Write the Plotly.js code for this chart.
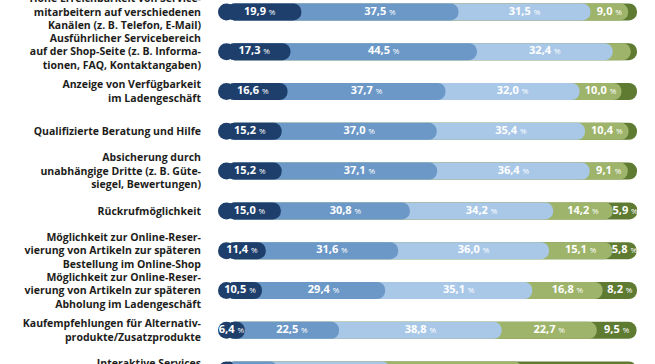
<!DOCTYPE html>
<html><head><meta charset="utf-8">
<script src="https://cdn.plot.ly/plotly-3.0.1.min.js"></script>
<style>
html,body{margin:0;padding:0;overflow:hidden;background:#fff;width:655px;height:364px}
#chart{position:absolute;left:0;top:-8px;width:655px;height:398px}
</style></head>
<body><div id="chart"></div>
<script>
const categories = [
  "Hohe Erreichbarkeit von Service-<br>mitarbeitern auf verschiedenen<br>Kanälen (z. B. Telefon, E-Mail)",
  "Ausführlicher Servicebereich<br>auf der Shop-Seite (z. B. Informa-<br>tionen, FAQ, Kontaktangaben)",
  "Anzeige von Verfügbarkeit<br>im Ladengeschäft",
  "Qualifizierte Beratung und Hilfe",
  "Absicherung durch<br>unabhängige Dritte (z. B. Güte-<br>siegel, Bewertungen)",
  "Rückrufmöglichkeit",
  "Möglichkeit zur Online-Reser-<br>vierung von Artikeln zur späteren<br>Bestellung im Online-Shop",
  "Möglichkeit zur Online-Reser-<br>vierung von Artikeln zur späteren<br>Abholung im Ladengeschäft",
  "Kaufempfehlungen für Alternativ-<br>produkte/Zusatzprodukte",
  "Interaktive Services<br>&nbsp;"
];
const seriesNames = ["sehr wichtig", "wichtig", "eher wichtig", "weniger wichtig", "unwichtig"];
const s1 = [19.9, 17.3, 16.6, 15.2, 15.2, 15.0, 11.4, 10.5, 6.4, 3.5];
const s2 = [37.5, 44.5, 37.7, 37.0, 37.1, 30.8, 31.6, 29.4, 22.5, 10.8];
const s3 = [31.5, 32.4, 32.0, 35.4, 36.4, 34.2, 36.0, 35.1, 38.8, 26.8];
const s4 = [9.0, 4.3, 10.0, 10.4, 9.1, 14.2, 15.1, 16.8, 22.7, 31.5];
const s5 = [2.1, 1.5, 3.7, 2.0, 2.2, 5.9, 5.8, 8.2, 9.5, 27.4];
const colors = ["#1e3f6c", "#6b98c7", "#a9c8e8", "#9db46a", "#5e7b31"];
const labelThreshold = 5;

const W = 655, H = 398, ML = 218, MR = 18;
const plotW = W - ML - MR;
const n = categories.length;
const barPx = 17;
const barW = barPx / (H / n);
const capR = (barPx / 2) / (plotW / 100); // cap radius in axis units

const series = [s1, s2, s3, s4, s5];
const cum = series.map((_, k) => categories.map((c, i) => {
  let t = 0; for (let j = 0; j <= k; j++) t += series[j][i]; return t;
}));

const traces = [];
for (let k = 4; k >= 0; k--) {
  traces.push({
    type: "bar", orientation: "h", name: seriesNames[k],
    y: categories, base: capR, x: cum[k].map(v => v - capR),
    width: barW, marker: {color: colors[k], cornerradius: "50%", line: {width: 0}},
    hoverinfo: "skip", showlegend: false
  });
}
// rounded left end of each bar
traces.push({
  type: "scatter", mode: "markers", x: categories.map(() => capR), y: categories,
  marker: {symbol: "circle", size: barPx, color: colors[0], line: {width: 0}},
  hoverinfo: "skip", showlegend: false, cliponaxis: false
});
for (let k = 0; k < 5; k++) {
  const xs = [], ys = [], ts = [];
  for (let i = 0; i < n; i++) {
    const v = series[k][i];
    if (v < labelThreshold) continue;
    const start = k === 0 ? 0 : cum[k - 1][i];
    xs.push(start + v / 2); ys.push(categories[i]);
    ts.push(v.toFixed(1).replace(".", ",") + " <span style='font-size:8px;font-weight:400'>%</span>");
  }
  traces.push({
    type: "scatter", mode: "text", x: xs, y: ys, text: ts,
    textposition: "middle center",
    textfont: {family: "'Open Sans', sans-serif", size: 11, color: "#ffffff", weight: 700},
    hoverinfo: "skip", showlegend: false, cliponaxis: false
  });
}

const layout = {
  width: W, height: H,
  margin: {l: ML, r: MR, t: 0, b: 0, pad: 0},
  paper_bgcolor: "#ffffff", plot_bgcolor: "#ffffff",
  barmode: "overlay", showlegend: false,
  xaxis: {range: [0, 100], visible: false, fixedrange: true},
  yaxis: {
    type: "category", range: [n - 0.5, -0.5], showgrid: false, zeroline: false,
    showline: false, ticks: "", ticklabelstandoff: 16,
    tickfont: {family: "'Open Sans', sans-serif", size: 10.5, color: "#1d1d1b", weight: 700},
    fixedrange: true
  }
};
Plotly.newPlot("chart", traces, layout, {staticPlot: true, displayModeBar: false});
</script></body></html>
